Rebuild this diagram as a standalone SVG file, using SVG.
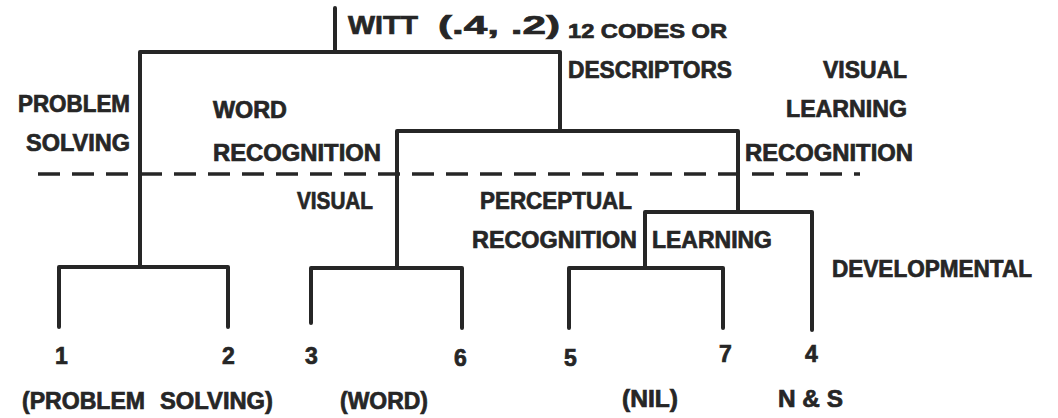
<svg xmlns="http://www.w3.org/2000/svg" width="1058" height="418" viewBox="0 0 1058 418">
<style>
.ln{fill:none;stroke:#262626;stroke-width:4;stroke-linecap:round;stroke-linejoin:round}
.dash{fill:none;stroke:#262626;stroke-width:3.5;stroke-dasharray:22 12}
text{font-family:"Liberation Sans",Arial,sans-serif;font-weight:bold;fill:#262626;stroke:#262626;stroke-width:0.7;font-size:23px}
.big{font-size:26px}
.sm{font-size:20px}
</style>
<rect width="1058" height="418" fill="#fff"/>
<g id="connectors">
<path class="ln" d="M335 8V52M140 52H560M140 52V267M560 52V131"/>
<path class="ln" d="M397 131H738M397 131V268M738 131V212"/>
<path class="ln" d="M645 212H812M645 212V268M812 212V330"/>
<path class="ln" d="M59 327V267H228V327"/>
<path class="ln" d="M311 323V268H462V328"/>
<path class="ln" d="M569 328V268H723V328"/>
<path class="dash" d="M38 174H860"/>
</g>
<g id="root"><text class="big" x="348" y="34" textLength="70" lengthAdjust="spacingAndGlyphs">WITT</text>
<text class="big" x="438" y="34" textLength="122" lengthAdjust="spacingAndGlyphs">(.4, .2)</text></g>
<g id="note"><text class="sm" x="568" y="38" textLength="159" lengthAdjust="spacingAndGlyphs">12 CODES OR</text>
<text x="568" y="78" textLength="164" lengthAdjust="spacingAndGlyphs">DESCRIPTORS</text></g>
<g id="visual-learning-recognition"><text x="823" y="78" textLength="84" lengthAdjust="spacingAndGlyphs">VISUAL</text>
<text x="786" y="117" textLength="121" lengthAdjust="spacingAndGlyphs">LEARNING</text>
<text x="745" y="161" textLength="168" lengthAdjust="spacingAndGlyphs">RECOGNITION</text></g>
<g id="problem-solving"><text x="18" y="112" textLength="112" lengthAdjust="spacingAndGlyphs">PROBLEM</text>
<text x="26" y="151" textLength="104" lengthAdjust="spacingAndGlyphs">SOLVING</text></g>
<g id="word-recognition"><text x="213" y="118" textLength="74" lengthAdjust="spacingAndGlyphs">WORD</text>
<text x="213" y="161" textLength="168" lengthAdjust="spacingAndGlyphs">RECOGNITION</text></g>
<g id="visual"><text x="297" y="209" textLength="76" lengthAdjust="spacingAndGlyphs">VISUAL</text></g>
<g id="perceptual-recognition"><text x="480" y="209" textLength="152" lengthAdjust="spacingAndGlyphs">PERCEPTUAL</text>
<text x="472" y="248" textLength="165" lengthAdjust="spacingAndGlyphs">RECOGNITION</text></g>
<g id="learning"><text x="652" y="248" textLength="120" lengthAdjust="spacingAndGlyphs">LEARNING</text></g>
<g id="developmental"><text x="832" y="277" textLength="200" lengthAdjust="spacingAndGlyphs">DEVELOPMENTAL</text></g>
<g id="leaf-1"><text x="55" y="364">1</text></g>
<g id="leaf-2"><text x="222" y="364">2</text></g>
<g id="leaf-3"><text x="305" y="364">3</text></g>
<g id="leaf-6"><text x="454" y="366">6</text></g>
<g id="leaf-5"><text x="564" y="366">5</text></g>
<g id="leaf-7"><text x="719" y="362">7</text></g>
<g id="leaf-4"><text x="805" y="362">4</text></g>
<g id="group-labels"><text x="22" y="409" textLength="123" lengthAdjust="spacingAndGlyphs">(PROBLEM</text>
<text x="160" y="409" textLength="113" lengthAdjust="spacingAndGlyphs">SOLVING)</text>
<text x="340" y="409" textLength="88" lengthAdjust="spacingAndGlyphs">(WORD)</text>
<text x="622" y="407" textLength="56" lengthAdjust="spacingAndGlyphs">(NIL)</text>
<text x="778" y="407" textLength="65" lengthAdjust="spacingAndGlyphs">N &amp; S</text></g>
</svg>
